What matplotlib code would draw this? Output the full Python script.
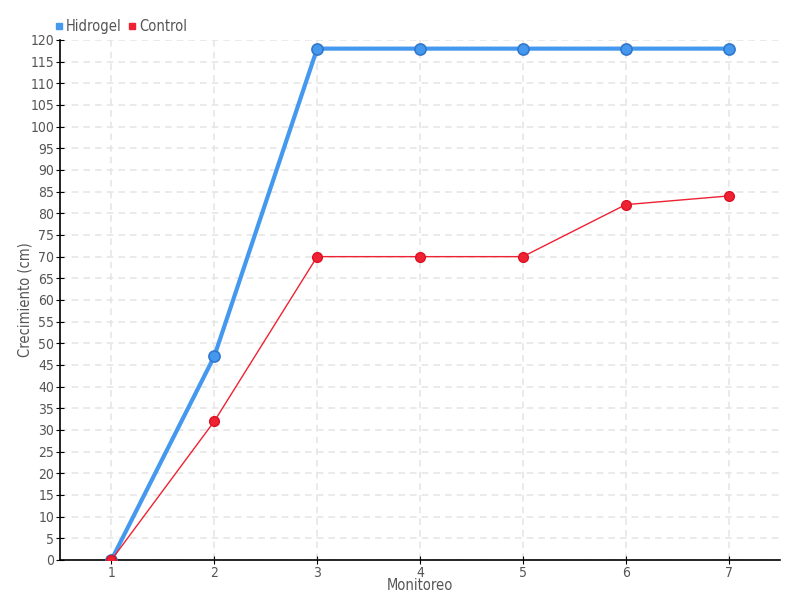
import matplotlib.pyplot as plt
from matplotlib.lines import Line2D

# Datos
monitoreo = [1, 2, 3, 4, 5, 6, 7]
hidrogel = [0, 47, 118, 118, 118, 118, 118]
control = [0, 32, 70, 70, 70, 82, 84]

azul = "#4499ee"
rojo = "#ee2233"
gris = "#555555"

plt.rcParams['font.family'] = ['DejaVu Sans']
plt.rcParams['font.stretch'] = 'condensed'

fig = plt.figure(figsize=(8, 6), dpi=100)
ax = fig.add_axes([0.075, 0.0667, 0.9, 0.8667])

ax.plot(monitoreo, hidrogel, color=azul, lw=3, marker='o', ms=8,
        markerfacecolor=azul, markeredgecolor="#3377cc", markeredgewidth=1.2, zorder=3)
ax.plot(monitoreo, control, color=rojo, lw=1, marker='o', ms=7,
        markerfacecolor=rojo, markeredgecolor="#dd1122", zorder=4)

ax.set_xlim(0.5, 7.5)
ax.set_ylim(0, 120)
ax.set_xticks(monitoreo)
ax.set_yticks(range(0, 121, 5))
ax.grid(True, color="#e6e6e6", linestyle=(0, (4, 3)), lw=1.2)
ax.set_axisbelow(True)

for s in ['top', 'right']:
    ax.spines[s].set_visible(False)
ax.spines['left'].set_linewidth(1.2)
ax.spines['bottom'].set_linewidth(1.2)
ax.tick_params(axis='both', direction='inout', length=6, labelsize=10, labelcolor=gris, pad=1)

ax.set_xlabel("Monitoreo", fontsize=10.5, color=gris, labelpad=-1)
ax.set_ylabel("Crecimiento (cm)", fontsize=10.5, color=gris)
ax.yaxis.set_label_coords(-0.038, 0.5)

handles = [Line2D([], [], ls='', marker='s', ms=5, color=azul, label='Hidrogel'),
           Line2D([], [], ls='', marker='s', ms=5, color=rojo, label='Control')]
leg = fig.legend(handles=handles, loc='upper left', bbox_to_anchor=(0.053, 0.99), ncol=2,
                 frameon=False, fontsize=10.5, handlelength=0.5, handletextpad=0.2,
                 columnspacing=0.5)
for t in leg.get_texts():
    t.set_color(gris)

plt.savefig("out.png")
